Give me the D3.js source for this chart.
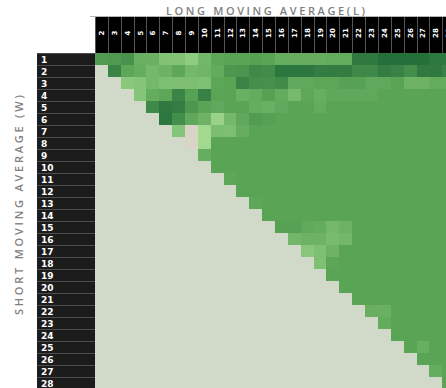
<!DOCTYPE html>
<html>
<head>
<meta charset="utf-8">
<script src="https://cdn.jsdelivr.net/npm/d3@7"></script>
<style>
  html, body { margin: 0; padding: 0; background: #fff; overflow: hidden; }
  svg { display: block; }
</style>
</head>
<body>
<svg id="chart" width="446" height="388"></svg>
<script>
// Long window lengths (columns) and short window lengths (rows)
const longWindows = [2,3,4,5,6,7,8,9,10,11,12,13,14,15,16,17,18,19,20,21,22,23,24,25,26,27,28,29];
const shortWindows = [1,2,3,4,5,6,7,8,9,10,11,12,13,14,15,16,17,18,19,20,21,22,23,24,25,26,27,28];

// Score for each (W, L) pair; null where L <= W (not a valid crossover)
const _ = null;
const scores = [
  [66,68,73,49,48,33,32,24,43,57,60,60,62,60,52,52,52,52,54,54,91,91,98,98,98,98,92,92],
  [_,83,57,52,42,47,57,42,45,54,69,71,79,77,93,93,93,88,88,88,80,80,88,84,76,91,91,84],
  [_,_,27,30,42,35,36,36,34,58,60,83,75,74,78,56,56,58,58,62,62,56,56,61,47,47,54,54],
  [_,_,_,30,53,57,83,62,85,60,61,49,54,62,54,40,57,51,56,56,56,56,60,60,60,60,60,60],
  [_,_,_,_,79,91,88,70,60,56,60,60,53,49,56,60,60,54,60,60,60,60,60,60,60,60,60,60],
  [_,_,_,_,_,93,76,56,47,17,42,56,66,63,60,60,60,60,60,60,60,60,60,60,60,60,60,60],
  [_,_,_,_,_,_,30,0,11,37,36,52,61,60,60,60,60,60,60,60,60,60,60,60,60,60,60,60],
  [_,_,_,_,_,_,_,0,11,60,60,60,60,60,60,60,60,60,60,60,60,60,60,60,60,60,60,60],
  [_,_,_,_,_,_,_,_,52,60,60,60,60,60,60,60,60,60,60,60,60,60,60,60,60,60,60,60],
  [_,_,_,_,_,_,_,_,_,60,60,60,60,60,60,60,60,60,60,60,60,60,60,60,60,60,60,60],
  [_,_,_,_,_,_,_,_,_,_,57,60,60,60,60,60,60,60,60,60,60,60,60,60,60,60,60,60],
  [_,_,_,_,_,_,_,_,_,_,_,60,60,60,60,60,60,60,60,60,60,60,60,60,60,60,60,60],
  [_,_,_,_,_,_,_,_,_,_,_,_,57,60,60,60,60,60,60,60,60,60,60,60,60,60,60,60],
  [_,_,_,_,_,_,_,_,_,_,_,_,_,60,60,60,60,60,60,60,60,60,60,60,60,60,60,60],
  [_,_,_,_,_,_,_,_,_,_,_,_,_,_,62,62,56,53,42,47,60,60,60,60,60,60,60,60],
  [_,_,_,_,_,_,_,_,_,_,_,_,_,_,_,43,47,47,39,43,60,60,60,60,60,60,60,60],
  [_,_,_,_,_,_,_,_,_,_,_,_,_,_,_,_,28,35,47,60,60,60,60,60,60,60,60,60],
  [_,_,_,_,_,_,_,_,_,_,_,_,_,_,_,_,_,34,58,60,60,60,60,60,60,60,60,60],
  [_,_,_,_,_,_,_,_,_,_,_,_,_,_,_,_,_,_,60,60,60,60,60,60,60,60,60,60],
  [_,_,_,_,_,_,_,_,_,_,_,_,_,_,_,_,_,_,_,60,60,60,60,60,60,60,60,60],
  [_,_,_,_,_,_,_,_,_,_,_,_,_,_,_,_,_,_,_,_,60,60,60,60,60,60,60,60],
  [_,_,_,_,_,_,_,_,_,_,_,_,_,_,_,_,_,_,_,_,_,50,49,60,60,60,60,60],
  [_,_,_,_,_,_,_,_,_,_,_,_,_,_,_,_,_,_,_,_,_,_,54,60,60,60,60,60],
  [_,_,_,_,_,_,_,_,_,_,_,_,_,_,_,_,_,_,_,_,_,_,_,60,60,60,60,60],
  [_,_,_,_,_,_,_,_,_,_,_,_,_,_,_,_,_,_,_,_,_,_,_,_,60,50,60,60],
  [_,_,_,_,_,_,_,_,_,_,_,_,_,_,_,_,_,_,_,_,_,_,_,_,_,60,60,60],
  [_,_,_,_,_,_,_,_,_,_,_,_,_,_,_,_,_,_,_,_,_,_,_,_,_,_,53,60],
  [_,_,_,_,_,_,_,_,_,_,_,_,_,_,_,_,_,_,_,_,_,_,_,_,_,_,_,60]
];

const xTitle = "LONG MOVING AVERAGE(L)";
const yTitle = "SHORT MOVING AVERAGE (W)";

const svg = d3.select("#chart");

const gridLeft = 95, gridTop = 53, cellW = 12.86, cellH = 12;
const headTop = 17, headLeft = 37;

const x = d3.scaleBand()
  .domain(longWindows)
  .range([gridLeft, gridLeft + longWindows.length * cellW]);
const y = d3.scaleBand()
  .domain(shortWindows)
  .range([gridTop, gridTop + shortWindows.length * cellH]);

const color = d3.scaleLinear()
  .domain([0, 10, 60, 100])
  .range(["#d8d4c6", "#a2db90", "#5aa456", "#226c3a"])
  .clamp(true);
const emptyFill = "#d1d9c9";

// Heatmap cells
const cells = [];
shortWindows.forEach((w, i) => {
  longWindows.forEach((l, j) => cells.push({ w, l, v: scores[i][j] }));
});

svg.append("g")
  .attr("shape-rendering", "crispEdges")
  .selectAll("rect")
  .data(cells)
  .join("rect")
  .attr("x", d => x(d.l))
  .attr("y", d => y(d.w))
  .attr("width", x.bandwidth() + 0.6)
  .attr("height", y.bandwidth() + 0.6)
  .attr("fill", d => d.v == null ? emptyFill : color(d.v));

// Column header band
const colHead = svg.append("g");
colHead.append("line")
  .attr("x1", 90).attr("x2", 446)
  .attr("y1", headTop - 0.5).attr("y2", headTop - 0.5)
  .attr("stroke", "#b5b5b5");
colHead.append("rect")
  .attr("x", gridLeft).attr("y", headTop)
  .attr("width", 446 - gridLeft).attr("height", gridTop - headTop)
  .attr("fill", "#000");
colHead.selectAll("line.sep")
  .data(longWindows)
  .join("line")
  .attr("class", "sep")
  .attr("x1", d => Math.round(x(d)) + 0.5)
  .attr("x2", d => Math.round(x(d)) + 0.5)
  .attr("y1", headTop).attr("y2", gridTop)
  .attr("stroke", "#555");
colHead.selectAll("text")
  .data(longWindows)
  .join("text")
  .attr("transform", d => `translate(${x(d) + x.bandwidth() / 2},33) rotate(-90)`)
  .attr("text-anchor", "middle")
  .attr("dy", "0.36em")
  .attr("fill", "#fff")
  .attr("font-family", "DejaVu Sans, Verdana, sans-serif")
  .attr("font-weight", "bold")
  .attr("font-size", 7)
  .text(d => d);

// Row header band
const rowHead = svg.append("g");
rowHead.append("rect")
  .attr("x", headLeft).attr("y", gridTop)
  .attr("width", gridLeft - headLeft).attr("height", 388 - gridTop)
  .attr("fill", "#1c1c1c");
rowHead.selectAll("line.sep")
  .data(shortWindows)
  .join("line")
  .attr("class", "sep")
  .attr("x1", headLeft).attr("x2", gridLeft)
  .attr("y1", d => Math.round(y(d)) + 0.5)
  .attr("y2", d => Math.round(y(d)) + 0.5)
  .attr("stroke", "#4d4d4d");
rowHead.selectAll("text")
  .data(shortWindows)
  .join("text")
  .attr("x", headLeft + 4)
  .attr("y", d => y(d) + 10)
  .attr("fill", "#fff")
  .attr("font-family", "DejaVu Sans, Verdana, sans-serif")
  .attr("font-weight", "bold")
  .attr("font-size", 9)
  .text(d => d);

// Axis titles
svg.append("text")
  .attr("x", 166).attr("y", 15)
  .attr("textLength", 199)
  .attr("lengthAdjust", "spacing")
  .attr("fill", "#7f7f7f")
  .attr("font-family", "Open Sans, sans-serif")
  .attr("font-weight", 600)
  .attr("font-size", 11)
  .text(xTitle);

svg.append("text")
  .attr("transform", "translate(22.5,315) rotate(-90)")
  .attr("textLength", 220)
  .attr("lengthAdjust", "spacing")
  .attr("fill", "#7f7f7f")
  .attr("font-family", "Open Sans, sans-serif")
  .attr("font-weight", 600)
  .attr("font-size", 11)
  .text(yTitle);
</script>
</body>
</html>
